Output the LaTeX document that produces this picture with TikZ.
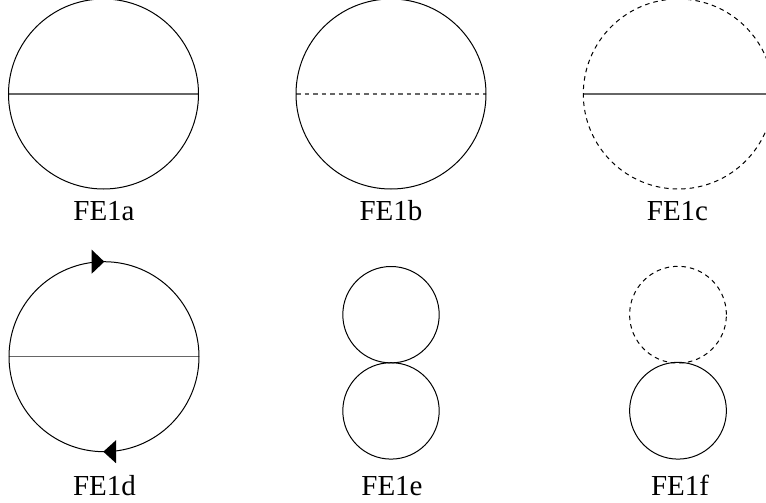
\documentclass[tikz,border=0pt]{standalone}
\usepackage{fontspec}
\newfontfamily\lblfont{Liberation Serif}
\begin{document}
\begin{tikzpicture}[x=1pt,y=-1pt,
  loop/.style={draw=black,line width=1pt},
  dashloop/.style={draw=black,line width=1pt,dash pattern=on 4.5pt off 4pt},
  chord/.style={draw=black!60,line width=1.4pt},
  dashchord/.style={chord,dash pattern=on 4.5pt off 4pt},
  lbl/.style={font=\lblfont\fontsize{29}{31}\selectfont,anchor=base,inner sep=0pt},
  head/.style={fill=black,draw=none}]
\useasboundingbox (0,0) rectangle (766,503);
\clip (0,0) rectangle (766,503);
% centres
\coordinate (ca) at (103.5,94);
\coordinate (cb) at (391,94);
\coordinate (cc) at (678.3,94);
\coordinate (cd) at (104,356.7);
\coordinate (ce1) at (391,314.7);
\coordinate (ce2) at (391,410.9);
\coordinate (cf1) at (678,314.7);
\coordinate (cf2) at (678,410.7);
% FE1a
\draw[chord] ([xshift=-95pt]ca) -- ([xshift=95pt]ca);
\draw[loop] (ca) circle[radius=95pt];
% FE1b
\draw[dashchord] ([xshift=-95pt]cb) -- ([xshift=95pt]cb);
\draw[loop] (cb) circle[radius=95pt];
% FE1c
\draw[chord] ([xshift=-95pt]cc) -- ([xshift=95pt]cc);
\draw[dashloop] (cc) circle[radius=95pt];
% FE1d
\draw[chord] ([xshift=-95pt]cd) -- ([xshift=95pt]cd);
\draw[loop] (cd) circle[radius=95pt];
\coordinate (tt) at ([yshift=95pt]cd);
\coordinate (bt) at ([yshift=-95pt]cd);
\fill[head] ([xshift=0.3pt]tt) -- ([xshift=-12.3pt,yshift=12pt]tt) -- ([xshift=-12.3pt,yshift=-12pt]tt) -- cycle;
\fill[head] ([xshift=-0.7pt]bt) -- ([xshift=12pt,yshift=11.5pt]bt) -- ([xshift=12pt,yshift=-11.5pt]bt) -- cycle;
% FE1e
\draw[loop] (ce1) circle[radius=48.2pt];
\draw[loop] (ce2) circle[radius=48.2pt];
% FE1f
\draw[dashloop] (cf1) circle[radius=48.4pt];
\draw[loop] (cf2) circle[radius=48.4pt];
% labels
\node[lbl] (la) at (104,220) {FE1a};
\node[lbl] (lb) at (391,220) {FE1b};
\node[lbl] (lc) at (677.5,220) {FE1c};
\node[lbl] (ld) at (104.5,495) {FE1d};
\node[lbl] (le) at (392,495) {FE1e};
\node[lbl] (lf) at (680,495) {FE1f};
\end{tikzpicture}
\end{document}
